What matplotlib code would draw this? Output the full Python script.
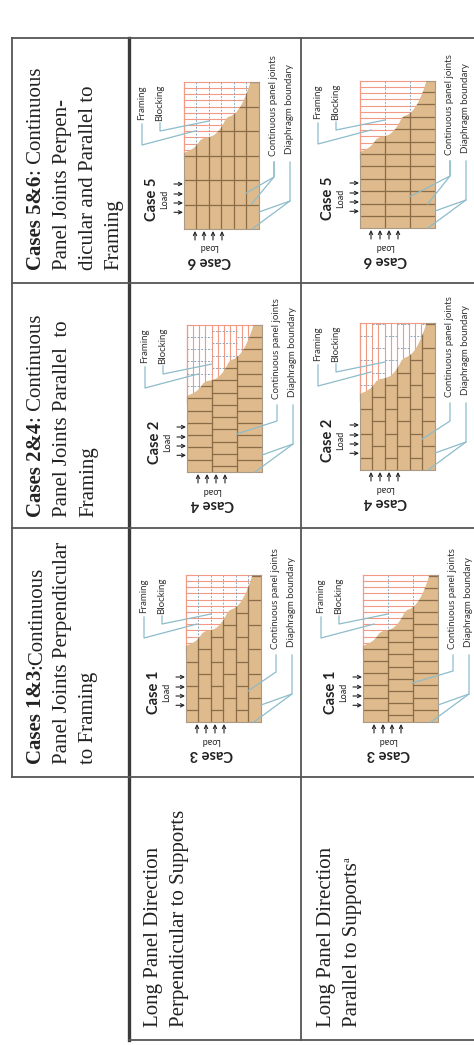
import matplotlib
matplotlib.use('Agg')
import matplotlib.pyplot as plt
from matplotlib.path import Path
from matplotlib.patches import PathPatch

# table grid lines, in picture pixels
col_lines = [12, 129, 301]
row_lines = [38, 283, 528, 777, 1040]

# header text: (bold part, rest of first line, other lines)
header_bold = ['Cases 5&6', 'Cases 2&4', 'Cases 1&3']
header_rest = [': Continuous', ': Continuous', ':Continuous']
header_lines = [['Panel Joints Perpen-', 'dicular and Parallel to', 'Framing'],
                ['Panel Joints Parallel  to', 'Framing'],
                ['Panel Joints Perpendicular', 'to Framing']]
row_labels = [['Long Panel Direction', 'Perpendicular to Supports'],
              ['Long Panel Direction', 'Parallel to Supports']]

# one entry per diagram: 5&6 left/right, 2&4 left/right, 1&3 left/right
diagram_x = [184, 360, 187, 360, 186, 363]
diagram_y = [229, 228, 472, 470, 722, 722]
n_panel_cols = [6, 3, 3, 6, 6, 3]
joint_spacing = [24.5, 12.4, 12.3, 24.4, 24.4, 12.2]
joint_odd = [24.3, 12.0, 12.3, 12.0, 11.7, 12.3]
joint_even = [24.3, 12.0, 5.7, 24.3, 24.0, 6.7]
framing_dir = ['h', 'h', 'v', 'v', 'h', 'h']
case_load = ['Case 5', 'Case 5', 'Case 2', 'Case 2', 'Case 1', 'Case 1']
case_other = ['Case 6', 'Case 6', 'Case 4', 'Case 4', 'Case 3', 'Case 3']
joint_leader_v = [52, 52, 51, 49, 50, 51]
joint_ends = [[(62.3, 36), (67.3, 24.7)], [(49.3, 31), (67.7, 24)], [(49.7, 38)],
              [(62.3, 31)], [(62, 31)], [(49.3, 39)]]

# edge of the cut-away, diagram coordinates
edge_u = [0, 7.3, 13.3, 17.3, 25.7, 32.3, 39, 42.3, 49, 55.7, 60.7, 64, 66.3]
edge_v = [76.3, 79, 84, 90.7, 91.7, 95, 104, 111.7, 113.3, 120.7, 130.7, 139, 146.7]
arrow_load = [16.7, 26, 35, 45]
arrow_other = [11, 20, 29, 38]

WIDTH = 75
HEIGHT = 147
RED = '#f29a84'
TAN = '#deba8c'
JOINT = '#8a6c48'
EDGE = '#a89a86'
BLUE = '#8dbccb'
DASH = '#8ea6ba'
GREY = '#555555'
INK = '#222222'
SERIF = 'Liberation Serif'
SANS = 'Lato'
HEAD_SIZE = 15

fig = plt.figure(figsize=(4.74, 10.45), dpi=100)
ax = fig.add_axes([0, 0, 1, 1])
ax.set_xlim(0, 474)
ax.set_ylim(1045, 0)
ax.axis('off')


def vtext(x, y, s, **kw):
    kw.setdefault('color', INK)
    return ax.text(x, y, s, rotation=90, rotation_mode='anchor', ha='left', va='baseline', **kw)


def panel_path(px, py):
    # smooth curve through the cut-away edge, then round the rectangle
    pts = [(px(u), py(v)) for u, v in zip(edge_u, edge_v)]
    verts = [pts[0]]
    codes = [Path.MOVETO]
    for a, b in zip(pts[:-1], pts[1:]):
        verts += [a, ((a[0] + b[0]) / 2, (a[1] + b[1]) / 2)]
        codes += [Path.CURVE3, Path.CURVE3]
    for corner in [pts[-1], (px(WIDTH), py(HEIGHT)), (px(WIDTH), py(0)), (px(0), py(0)), pts[0]]:
        verts.append(corner)
        codes.append(Path.LINETO)
    return Path(verts, codes)


def draw_diagram(i):
    x0, y0 = diagram_x[i], diagram_y[i]
    px = lambda u: x0 + u
    py = lambda v: y0 - v
    ncol = n_panel_cols[i]
    col_w = WIDTH / ncol

    # framing behind the panels
    if framing_dir[i] == 'h':
        v = HEIGHT
        while v > 70:
            ax.plot([px(0), px(WIDTH)], [py(v), py(v)], color=RED, lw=0.8, zorder=2)
            v -= 6.15
        for c in range(1, ncol):
            ax.plot([px(c * col_w)] * 2, [py(HEIGHT), py(70)], color=DASH, lw=0.7,
                    ls=(0, (2, 1.5)), zorder=2)
    else:
        u = 0
        while u < WIDTH:
            ax.plot([px(u), px(u)], [py(HEIGHT), py(70)], color=RED, lw=0.8, zorder=2)
            u += 6.15
        ax.plot([px(0), px(WIDTH)], [py(HEIGHT)] * 2, color=RED, lw=0.8, zorder=2)
    ax.plot([px(0)] * 2, [py(HEIGHT), py(70)], color=RED, lw=0.9, zorder=2)

    # panels
    panel = PathPatch(panel_path(px, py), fc=TAN, ec='none', zorder=3)
    ax.add_patch(panel)
    for c in range(1, ncol):
        line, = ax.plot([px(c * col_w)] * 2, [py(HEIGHT), py(0)], color=JOINT, lw=0.9, zorder=4)
        line.set_clip_path(panel)
    for c in range(ncol):
        v = joint_odd[i] if c % 2 == 0 else joint_even[i]
        while v < HEIGHT:
            line, = ax.plot([px(c * col_w), px((c + 1) * col_w)], [py(v)] * 2, color=JOINT,
                            lw=0.9, zorder=4)
            line.set_clip_path(panel)
            if framing_dir[i] == 'v':
                ax.plot([px(c * col_w), px((c + 1) * col_w)], [py(v)] * 2, color=DASH, lw=0.7,
                        ls=(0, (2, 1.5)), zorder=2)
            v += joint_spacing[i]
    ax.plot([px(0), px(WIDTH), px(WIDTH)], [py(0), py(0), py(HEIGHT)], color=EDGE, lw=0.8, zorder=4)
    ax.plot([px(edge_u[-1]), px(WIDTH)], [py(HEIGHT)] * 2, color=EDGE, lw=0.8, zorder=4)
    ax.plot([px(0)] * 2, [py(0), py(edge_v[0])], color=EDGE, lw=0.8, zorder=4)

    # load arrows
    for v in arrow_load:
        ax.annotate('', xy=(px(-1), py(v)), xytext=(px(-10), py(v)), zorder=5,
                    arrowprops=dict(arrowstyle='->', color='#222222', lw=0.8, mutation_scale=6,
                                    shrinkA=0, shrinkB=0))
    for u in arrow_other:
        ax.annotate('', xy=(px(u), py(-2)), xytext=(px(u), py(-11)), zorder=5,
                    arrowprops=dict(arrowstyle='->', color='#222222', lw=0.8, mutation_scale=6,
                                    shrinkA=0, shrinkB=0))

    # case labels, the second pair is upside down
    ax.text(px(-32), py(30), case_load[i], rotation=90, ha='center', va='center', family=SANS,
            fontweight='bold', fontsize=10.5, color=INK)
    ax.text(px(-19), py(30), 'Load', rotation=90, ha='center', va='center', family=SANS,
            fontsize=6.5, color=INK)
    ax.text(px(25), py(-32), case_other[i], rotation=180, ha='center', va='center', family=SANS,
            fontweight='bold', fontsize=10.5, color=INK)
    ax.text(px(25), py(-18), 'Load', rotation=180, ha='center', va='center', family=SANS,
            fontsize=6.5, color=INK)

    # callouts
    small = dict(rotation=90, ha='center', va='center', family=SANS, fontsize=7.0, color='#333333')
    ax.text(px(-42), py(126), 'Framing', **small)
    ax.text(px(-24), py(126), 'Blocking', **small)
    ax.text(px(90), py(123), 'Continuous panel joints', **small)
    ax.text(px(106), py(120), 'Diaphragm boundary', **small)

    blue = dict(color=BLUE, lw=0.9, zorder=6)
    ax.plot([px(-42), px(-42), px(11)], [py(105), py(84), py(98)], **blue)
    ax.plot([px(-24), px(-24), px(25)], [py(106), py(98), py(108)], **blue)
    for end in joint_ends[i]:
        ax.plot([px(90), px(90), px(end[0])], [py(67), py(joint_leader_v[i]), py(end[1])], **blue)
    ax.plot([px(106), px(106), px(WIDTH)], [py(67), py(28), py(17)], **blue)
    ax.plot([px(106), px(68)], [py(28), py(0)], **blue)


# table lines
ax.plot([col_lines[0]] * 2, [row_lines[0], row_lines[3]], color=GREY, lw=1.3)
ax.plot([col_lines[1]] * 2, [row_lines[0], row_lines[4]], color='#3a3a3a', lw=2.4)
ax.plot([col_lines[2]] * 2, [row_lines[0], row_lines[4]], color=GREY, lw=1.3)
for y in row_lines[:4]:
    ax.plot([col_lines[0], 474], [y, y], color=GREY, lw=1.3)
ax.plot([col_lines[1], 474], [row_lines[4]] * 2, color=GREY, lw=1.3)

for i in range(len(diagram_x)):
    draw_diagram(i)

# header cells, bold part then regular part on the same baseline
fig.canvas.draw()
renderer = fig.canvas.get_renderer()
header_start = [270, 517, 764]
baselines = [41, 67, 93, 118]
for k in range(3):
    y = header_start[k]
    t = vtext(baselines[0], y, header_bold[k], family=SERIF, fontweight='bold', fontsize=HEAD_SIZE)
    used = t.get_window_extent(renderer).height
    vtext(baselines[0], y - used - 0.5, header_rest[k], family=SERIF, fontsize=HEAD_SIZE)
    for j, line in enumerate(header_lines[k]):
        vtext(baselines[j + 1], y, line, family=SERIF, fontsize=HEAD_SIZE)

# row labels
for k, x_base in enumerate([158, 331]):
    vtext(x_base, 1027, row_labels[k][0], family=SERIF, fontsize=HEAD_SIZE)
    t = vtext(x_base + 26, 1027, row_labels[k][1], family=SERIF, fontsize=HEAD_SIZE)
    if k == 1:
        used = t.get_window_extent(renderer).height
        vtext(x_base + 19, 1027 - used - 0.5, 'a', family=SERIF, fontsize=7.5)

fig.savefig('out.png', dpi=100, facecolor='white')
